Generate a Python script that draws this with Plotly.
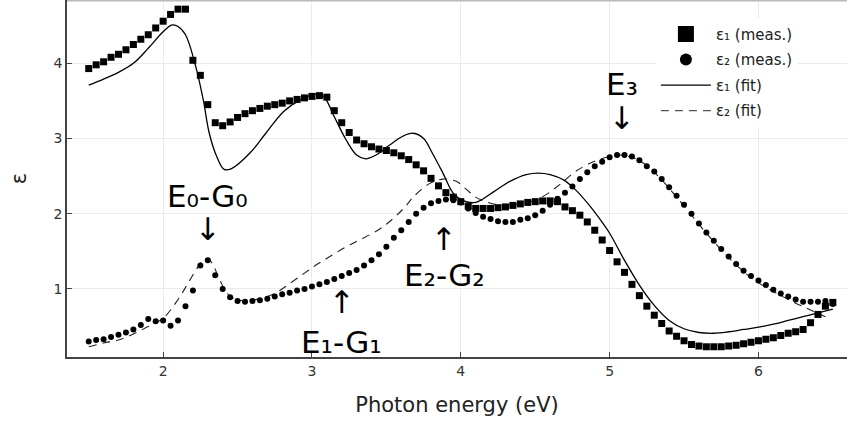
import plotly.graph_objects as go

# ---------------- data ----------------
energy_meas = [round(1.5 + 0.05 * i, 2) for i in range(101)]

eps1_meas = [3.93, 3.98, 4.02, 4.08, 4.12, 4.18, 4.25, 4.32, 4.38, 4.47,
             4.56, 4.65, 4.72, 4.72, 4.04, 3.84, 3.45, 3.21, 3.17, 3.22,
             3.28, 3.33, 3.37, 3.40, 3.43, 3.45, 3.47, 3.50, 3.52, 3.54,
             3.56, 3.57, 3.55, 3.37, 3.21, 3.08, 2.98, 2.93, 2.89, 2.86,
             2.84, 2.81, 2.77, 2.72, 2.65, 2.57, 2.47, 2.37, 2.28, 2.22,
             2.16, 2.10, 2.07, 2.07, 2.07, 2.08, 2.09, 2.11, 2.13, 2.15,
             2.16, 2.17, 2.17, 2.16, 2.09, 2.04, 1.98, 1.89, 1.78, 1.65,
             1.51, 1.36, 1.22, 1.06, 0.91, 0.77, 0.65, 0.54, 0.44, 0.37,
             0.31, 0.26, 0.24, 0.23, 0.23, 0.23, 0.24, 0.25, 0.27, 0.29,
             0.31, 0.33, 0.35, 0.38, 0.41, 0.43, 0.46, 0.55, 0.66, 0.77,
             0.82]

eps2_meas = [0.30, 0.32, 0.33, 0.36, 0.39, 0.42, 0.46, 0.52, 0.60, 0.57,
             0.58, 0.51, 0.58, 0.77, 0.98, 1.31, 1.38, 1.18, 1.00, 0.89,
             0.84, 0.83, 0.84, 0.85, 0.87, 0.90, 0.93, 0.95, 0.98, 1.00,
             1.03, 1.06, 1.09, 1.13, 1.17, 1.21, 1.25, 1.31, 1.38, 1.46,
             1.56, 1.68, 1.78, 1.89, 2.00, 2.08, 2.14, 2.17, 2.19, 2.18,
             2.15, 2.07, 2.01, 1.96, 1.93, 1.90, 1.89, 1.89, 1.92, 1.94,
             1.98, 2.04, 2.12, 2.20, 2.28, 2.36, 2.46, 2.55, 2.63, 2.69,
             2.75, 2.78, 2.78, 2.76, 2.71, 2.63, 2.56, 2.46, 2.35, 2.24,
             2.12, 2.00, 1.87, 1.75, 1.64, 1.53, 1.43, 1.33, 1.24, 1.17,
             1.11, 1.05, 0.99, 0.94, 0.90, 0.86, 0.83, 0.83, 0.83, 0.84,
             0.80]

energy_fit1 = [1.50, 1.60, 1.70, 1.80, 1.90, 2.00, 2.06, 2.10, 2.15, 2.22,
               2.27, 2.31, 2.36, 2.41, 2.46, 2.58, 2.69, 2.81, 2.92, 3.03,
               3.08, 3.14, 3.23, 3.30, 3.36, 3.43, 3.52, 3.61, 3.68, 3.75,
               3.81, 3.88, 3.95, 4.02, 4.10, 4.22, 4.33, 4.44, 4.52, 4.60,
               4.69, 4.77, 4.86, 4.93, 5.00, 5.10, 5.20, 5.30, 5.40, 5.50,
               5.60, 5.70, 5.80, 5.90, 6.00, 6.10, 6.20, 6.30, 6.40, 6.50]
eps1_fit = [3.71, 3.79, 3.88, 4.00, 4.20, 4.42, 4.51, 4.49, 4.38, 3.95,
            3.51, 3.07, 2.76, 2.59, 2.60, 2.80, 3.07, 3.36, 3.51, 3.59,
            3.56, 3.33, 2.98, 2.78, 2.73, 2.78, 2.91, 3.03, 3.07, 3.00,
            2.80, 2.54, 2.27, 2.17, 2.15, 2.29, 2.43, 2.52, 2.54, 2.52,
            2.45, 2.32, 2.12, 1.94, 1.74, 1.38, 1.05, 0.78, 0.58, 0.47,
            0.42, 0.41, 0.43, 0.46, 0.49, 0.53, 0.58, 0.63, 0.68, 0.73]

energy_fit2 = [1.50, 1.60, 1.70, 1.80, 1.90, 2.00, 2.09, 2.16, 2.22, 2.27,
               2.30, 2.33, 2.38, 2.43, 2.48, 2.55, 2.65, 2.75, 2.85, 2.95,
               3.03, 3.12, 3.23, 3.34, 3.45, 3.50, 3.57, 3.63, 3.68, 3.79,
               3.88, 3.97, 4.04, 4.10, 4.20, 4.30, 4.40, 4.50, 4.57, 4.66,
               4.77, 4.89, 5.00, 5.07, 5.15, 5.25, 5.35, 5.45, 5.55, 5.65,
               5.75, 5.85, 5.95, 6.05, 6.15, 6.25, 6.35, 6.45]
eps2_fit = [0.23, 0.28, 0.32, 0.40, 0.50, 0.61, 0.83, 1.05, 1.25, 1.38,
            1.40, 1.34, 1.12, 0.94, 0.87, 0.84, 0.87, 0.94, 1.07, 1.21,
            1.32, 1.43, 1.56, 1.67, 1.79, 1.86, 1.98, 2.10, 2.22, 2.40,
            2.46, 2.43, 2.32, 2.22, 2.14, 2.11, 2.13, 2.18, 2.25, 2.38,
            2.56, 2.69, 2.76, 2.78, 2.75, 2.64, 2.45, 2.22, 1.98, 1.74,
            1.52, 1.32, 1.15, 1.02, 0.91, 0.81, 0.72, 0.63]

legend_names = ["ε₁ (meas.)", "ε₂ (meas.)", "ε₁ (fit)", "ε₂ (fit)"]

# annotation labels: (text, x, y)
labels = [("E₀-G₀", 2.30, 2.24), ("↓", 2.30, 1.79),
          ("E₁-G₁", 3.20, 0.30), ("↑", 3.20, 0.82),
          ("E₂-G₂", 3.89, 1.18), ("↑", 3.89, 1.66),
          ("E₃", 5.08, 3.73), ("↓", 5.08, 3.27)]

FONT = "DejaVu Sans"

fig = go.Figure()
fig.add_trace(go.Scatter(x=energy_fit1, y=eps1_fit, mode="lines", line=dict(color="black", width=1.3, shape="spline"),
                         showlegend=False))
fig.add_trace(go.Scatter(x=energy_fit2, y=eps2_fit, mode="lines",
                         line=dict(color="#222", width=1.1, dash="8px,6px", shape="spline"), showlegend=False))
fig.add_trace(go.Scatter(x=energy_meas, y=eps1_meas, mode="markers",
                         marker=dict(symbol="square", size=7, color="black"), showlegend=False))
fig.add_trace(go.Scatter(x=energy_meas, y=eps2_meas, mode="markers",
                         marker=dict(symbol="circle", size=6, color="black"), showlegend=False))

# legend entries
fig.add_trace(go.Scatter(x=[None], y=[None], mode="markers", name=legend_names[0], legendgroup="a",
                         marker=dict(symbol="square", size=16, color="black")))
fig.add_trace(go.Scatter(x=[None], y=[None], mode="markers", name=legend_names[1], legendgroup="b",
                         marker=dict(symbol="circle", size=12, color="black")))
fig.add_trace(go.Scatter(x=[None], y=[None], mode="lines", name=legend_names[2], legendgroup="c",
                         line=dict(color="black", width=1.3)))
fig.add_trace(go.Scatter(x=[None], y=[None], mode="lines", name=legend_names[3], legendgroup="d",
                         line=dict(color="#555", width=1.3, dash="8px,6px")))

for txt, x, y in labels:
    fig.add_annotation(x=x, y=y, text=txt, showarrow=False, xanchor="center", yanchor="middle",
                       font=dict(family=FONT, size=31, color="black"))

axis_common = dict(showgrid=True, gridcolor="#ebebeb", gridwidth=1, zeroline=False,
                   showline=True, linecolor="#444", linewidth=1.5,
                   ticks="inside", ticklen=5, tickcolor="#444", automargin=False,
                   tickfont=dict(family=FONT, size=14, color="#333"))

fig.update_xaxes(range=[1.354, 6.595], tickvals=[2, 3, 4, 5, 6],
                 title=dict(text="Photon energy (eV)", font=dict(family=FONT, size=21, color="#222"), standoff=20),
                 **axis_common)
fig.update_yaxes(range=[0.094, 4.842], tickvals=[1, 2, 3, 4],
                 title=dict(text="ε", font=dict(family=FONT, size=21, color="#222"), standoff=21),
                 **axis_common)

fig.add_shape(type="line", xref="paper", yref="paper", x0=0, x1=1, y0=0.998, y1=0.998,
              line=dict(color="#bbb", width=1.5))

fig.update_layout(
    width=849, height=425,
    margin=dict(l=67, r=2, t=0, b=68),
    paper_bgcolor="white", plot_bgcolor="white",
    font=dict(family=FONT),
    legend=dict(x=0.755, y=0.95, xanchor="left", yanchor="top",
                bgcolor="white", borderwidth=0, itemwidth=50, tracegroupgap=3,
                font=dict(family=FONT, size=15, color="#222")),
)

fig.write_html("out.html", config={"displayModeBar": False},
               post_script="document.body.style.margin='0';")
